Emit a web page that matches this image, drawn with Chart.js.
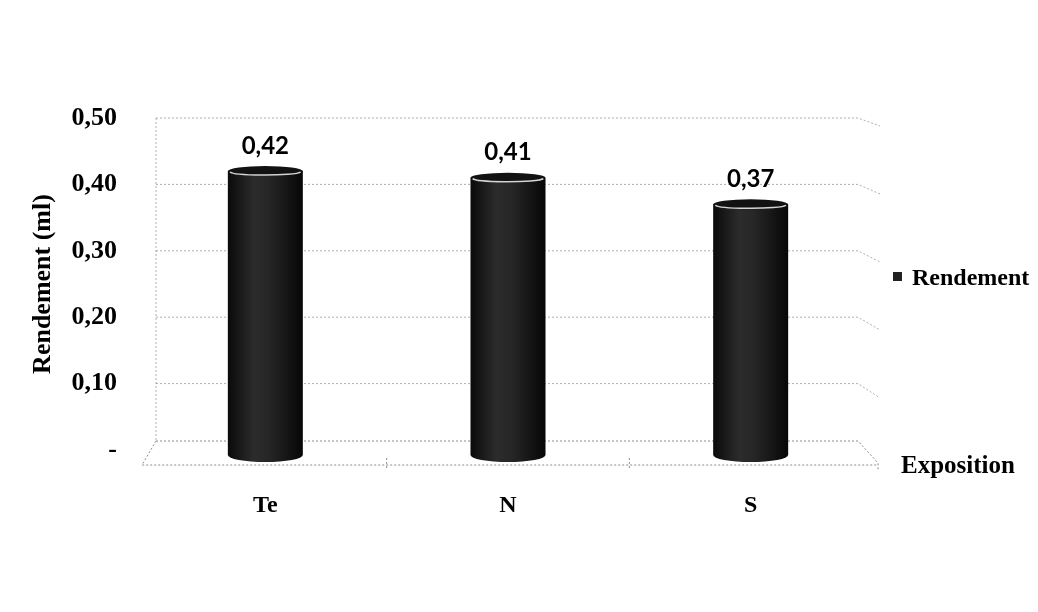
<!DOCTYPE html>
<html>
<head>
<meta charset="utf-8">
<script src="https://cdn.jsdelivr.net/npm/chart.js@4/dist/chart.umd.min.js"></script>
<style>
  html, body { margin: 0; padding: 0; background: #fff; }
  #wrap { width: 1038px; height: 612px; position: relative; }
</style>
</head>
<body>
<div id="wrap"><canvas id="c" width="1038" height="612"></canvas></div>
<script>
// Rendement moyen par exposition
const categories = ['Te', 'N', 'S'];
const rendement = [0.42, 0.41, 0.37];
const yTickLabels = ['-', '0,10', '0,20', '0,30', '0,40', '0,50'];
const seriesName = 'Rendement';
const xTitle = 'Exposition';
const yTitle = 'Rendement (ml)';

const SERIF = '"Liberation Serif", "Times New Roman", serif';
const SANS = 'Lato, "Open Sans", sans-serif';

const fmt = v => v.toFixed(2).replace('.', ',');

// Perspective box: back wall, floor and the slanted grid ends
const framePlugin = {
  id: 'frame3d',
  beforeDatasetsDraw(chart) {
    const { ctx } = chart;
    const y = chart.scales.y;
    const y0 = y.getPixelForValue(0);
    const yTop = y.getPixelForValue(0.5);
    const backL = 156, backR = 858, frontL = 142, frontR = 878;
    ctx.save();
    ctx.strokeStyle = 'rgba(120,120,120,0.6)';
    ctx.lineWidth = 1;
    ctx.setLineDash([2, 2]);
    // horizontal grid lines on the back wall
    y.ticks.forEach(t => {
      if (t.value === 0) return;
      const py = y.getPixelForValue(t.value);
      const drop = 8 + 8 * (py - yTop) / (y0 - yTop);
      ctx.beginPath();
      ctx.moveTo(backL, py);
      ctx.lineTo(backR, py);
      ctx.lineTo(backR + 22, py + drop);
      ctx.stroke();
    });
    // left wall edge
    ctx.beginPath();
    ctx.moveTo(backL, yTop);
    ctx.lineTo(backL, y0 - 9);
    ctx.stroke();
    // floor
    ctx.strokeStyle = 'rgba(90,90,90,0.7)';
    ctx.beginPath();
    ctx.moveTo(backL, y0 - 9);
    ctx.lineTo(backR, y0 - 9);
    ctx.lineTo(frontR, y0 + 13);
    ctx.lineTo(frontR, y0 + 20);
    ctx.moveTo(backL, y0 - 9);
    ctx.lineTo(frontL, y0 + 15);
    ctx.lineTo(frontR, y0 + 15);
    ctx.stroke();
    // category separators on the floor front edge
    const x = chart.scales.x;
    for (let i = 1; i < categories.length; i++) {
      const px = (x.getPixelForValue(i - 1) + x.getPixelForValue(i)) / 2;
      ctx.beginPath();
      ctx.moveTo(px, y0 + 8);
      ctx.lineTo(px, y0 + 18);
      ctx.stroke();
    }
    ctx.restore();
  },
  afterDatasetsDraw(chart) {
    const { ctx } = chart;
    const meta = chart.getDatasetMeta(0);
    ctx.save();
    meta.data.forEach((bar, i) => {
      const { x, y, base, width } = bar.getProps(['x', 'y', 'base', 'width'], true);
      const rx = width / 2;
      const ryTop = 5, ryBot = 7;
      const yb = base + 5;
      const g = ctx.createLinearGradient(x - rx, 0, x + rx, 0);
      g.addColorStop(0, '#0a0a0a');
      g.addColorStop(0.35, '#2c2c2c');
      g.addColorStop(0.55, '#262626');
      g.addColorStop(1, '#070707');
      // body with rounded bottom
      ctx.beginPath();
      ctx.moveTo(x - rx, y);
      ctx.lineTo(x - rx, yb);
      ctx.ellipse(x, yb, rx, ryBot, 0, Math.PI, 0, true);
      ctx.lineTo(x + rx, y);
      ctx.closePath();
      ctx.fillStyle = g;
      ctx.fill();
      // top cap
      ctx.beginPath();
      ctx.ellipse(x, y, rx, ryTop, 0, 0, Math.PI * 2);
      ctx.fillStyle = '#121212';
      ctx.fill();
      ctx.beginPath();
      ctx.ellipse(x, y + 0.5, rx - 2, ryTop - 1.5, 0, 0.1, Math.PI - 0.1);
      ctx.strokeStyle = 'rgba(235,235,235,0.9)';
      ctx.lineWidth = 1.5;
      ctx.stroke();
      // value label
      ctx.fillStyle = '#000';
      ctx.font = 'bold 24px ' + SANS;
      ctx.textAlign = 'center';
      ctx.textBaseline = 'middle';
      ctx.fillText(fmt(rendement[i]), x, y - 25);
    });

    // legend
    ctx.fillStyle = '#222';
    ctx.fillRect(893, 272, 9, 9);
    ctx.fillStyle = '#000';
    ctx.font = 'bold 24px ' + SERIF;
    ctx.textAlign = 'left';
    ctx.textBaseline = 'middle';
    ctx.fillText(seriesName, 912, 279);

    // horizontal axis title beside the floor
    ctx.font = 'bold 25px ' + SERIF;
    ctx.fillText(xTitle, 901, 467);
    ctx.restore();
  }
};

new Chart(document.getElementById('c'), {
  type: 'bar',
  data: {
    labels: categories,
    datasets: [{
      label: seriesName,
      data: rendement,
      backgroundColor: 'rgba(0,0,0,0)',
      borderWidth: 0,
      barThickness: 75
    }]
  },
  options: {
    responsive: false,
    animation: false,
    events: [],
    layout: { padding: { top: 118, right: 166, bottom: 0, left: 0 } },
    plugins: {
      legend: { display: false },
      tooltip: { enabled: false }
    },
    scales: {
      x: {
        grid: { display: false, drawTicks: false },
        border: { display: false },
        afterFit(s) { s.height = 162; },
        ticks: {
          color: '#000',
          padding: 41,
          font: { family: SERIF, size: 24, weight: 'bold' }
        }
      },
      y: {
        min: 0,
        max: 0.5,
        grid: { display: false, drawTicks: false },
        border: { display: false },
        afterFit(s) { s.width = 144; },
        ticks: {
          stepSize: 0.1,
          color: '#000',
          padding: 27,
          font: { family: SERIF, size: 26, weight: 'bold' },
          callback: (v, i) => yTickLabels[i]
        },
        title: {
          display: true,
          text: yTitle,
          color: '#000',
          padding: { top: 28, bottom: 0 },
          font: { family: SERIF, size: 26, weight: 'bold' }
        }
      }
    }
  },
  plugins: [framePlugin]
});
</script>
</body>
</html>
